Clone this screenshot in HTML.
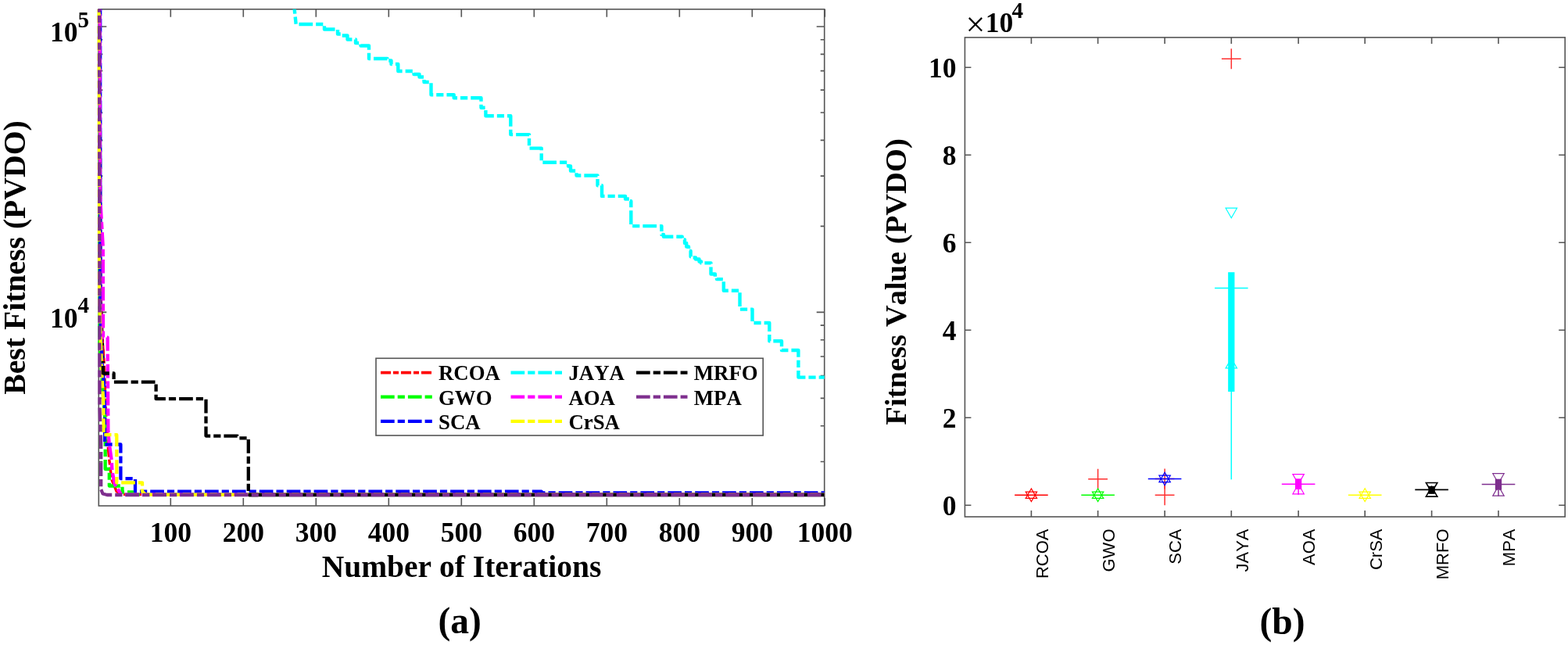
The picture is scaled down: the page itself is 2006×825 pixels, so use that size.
<!DOCTYPE html>
<html><head><meta charset="utf-8"><title>PVDO convergence and boxplot</title>
<style>html,body{margin:0;padding:0;background:#fff;}body{width:2006px;height:825px;overflow:hidden;}svg{display:block;}</style>
</head><body>
<svg width="2006" height="825" viewBox="0 0 2006 825">
<rect width="2006" height="825" fill="#fff"/>
<defs><clipPath id="cl"><rect x="123.3" y="11.8" width="931.40" height="635.2"/></clipPath></defs>
<path d="M218.3 647.0v-10M218.3 11.8v10M311.3 647.0v-10M311.3 11.8v10M404.3 647.0v-10M404.3 11.8v10M497.3 647.0v-10M497.3 11.8v10M590.3 647.0v-10M590.3 11.8v10M683.3 647.0v-10M683.3 11.8v10M776.3 647.0v-10M776.3 11.8v10M869.3 647.0v-10M869.3 11.8v10M962.3 647.0v-10M962.3 11.8v10M1055.3 647.0v-10M1055.3 11.8v10M126.3 399.4h10M1054.7 399.4h-10M126.3 34.0h10M1054.7 34.0h-10M126.3 590.5h5M1054.7 590.5h-5M126.3 544.8h5M1054.7 544.8h-5M126.3 509.4h5M1054.7 509.4h-5M126.3 480.5h5M1054.7 480.5h-5M126.3 456.0h5M1054.7 456.0h-5M126.3 434.8h5M1054.7 434.8h-5M126.3 416.1h5M1054.7 416.1h-5M126.3 289.4h5M1054.7 289.4h-5M126.3 225.1h5M1054.7 225.1h-5M126.3 179.4h5M1054.7 179.4h-5M126.3 144.0h5M1054.7 144.0h-5M126.3 115.1h5M1054.7 115.1h-5M126.3 90.6h5M1054.7 90.6h-5M126.3 69.4h5M1054.7 69.4h-5M126.3 50.7h5M1054.7 50.7h-5" stroke="#555" stroke-width="1.6" fill="none"/>
<rect x="126.3" y="11.8" width="928.40" height="635.2" fill="none" stroke="#555" stroke-width="1.6"/>
<g clip-path="url(#cl)" fill="none" stroke-linejoin="round">
<polyline points="127.5,0 128.5,380 131.8,462" stroke="#000" stroke-width="4.4" stroke-dasharray="17.7 4 9.2 4" stroke-dashoffset="7"/>
<polyline points="127,0 127,300 130,420 133.5,470 135,520 137.6,563.5 139.8,588.2 142.7,612.9 149.3,628.9 160,632.6 1056,632.6" stroke="#ff0000" stroke-width="3.5" stroke-dasharray="13 3 7 3" stroke-dashoffset="0"/>
<polyline points="127,0 127.5,440 129.5,470 131.5,500 134.7,540 134.7,600 139.8,600 139.8,621.5 156.5,621.5 156.5,629.5 170,629.5 171.5,632.6 1056,632.6" stroke="#00ff00" stroke-width="4.3" stroke-dasharray="17.7 4 9.2 4" stroke-dashoffset="5"/>
<polyline points="128.2,0 128.2,400 131,470 134,500 134,568.5 154.4,568.5 154.4,612.2 173,612.2 173,628.6 692.6,628.6 693.5,630.3 1056,630.3" stroke="#0000ff" stroke-width="4.3" stroke-dasharray="17.7 4 9.2 4" stroke-dashoffset="11"/>
<polyline points="375.5,0 377.5,20 378.7,31 415,31 415,37.5 432,37.5 432,43.5 436.5,43.5 436.5,45.5 444.5,45.5 444.5,50.5 455,50.5 455,55 461.5,55 461.5,58.5 472,58.5 472,75 495.5,75 495.5,77.5 500.5,77.5 500.5,82 509.3,82 509.3,91 529.5,91 529.5,95 536.5,95 536.5,98.5 542.5,98.5 542.5,105 551.5,105 551.5,121.2 580.7,121.2 580.7,125.3 615.5,125.3 615.5,137.8 621.4,137.8 621.4,148.3 653.3,148.3 653.3,172.1 677,172.1 677,189.6 692.7,189.6 692.7,207.7 727,207.7 727,212.5 730,212.5 730,218.5 737.5,218.5 737.5,224.5 764.5,224.5 764.5,237.3 770,237.3 770,250.9 800,250.9 800,254.5 805.5,254.5 805.5,257.3 807.3,257.3 807.3,289.1 846.4,289.1 846.4,300 849,300 849,302.7 872.7,302.7 872.7,306.4 876,306.4 876,311 878.2,311 878.2,315.5 881,315.5 881,321 883.6,321 883.6,328.2 886.5,328.2 886.5,329.5 890,329.5 890,331.5 894.5,331.5 894.5,334.5 897,334.5 897,336.4 909.5,336.4 909.5,350.5 914.9,350.5 914.9,355 917,355 917,357.1 925.8,357.1 925.8,371.8 946.5,371.8 946.5,395.6 962.5,395.6 962.5,413 984.3,413 984.3,436.2 1000,436.2 1000,448 1021.4,448 1021.4,482.6 1056,482.6" stroke="#00ffff" stroke-width="4.4" stroke-dasharray="17.7 4 9.2 4" stroke-dashoffset="0"/>
<polyline points="127.5,0 128,250 131.8,315.6 132,431.6 137.6,431.6 138.4,551.8 139.8,567.8 142.7,588.2 143.5,602.7 147.1,620.2 155.1,632.6 1056,632.6" stroke="#ff00ff" stroke-width="4.3" stroke-dasharray="17.7 4 9.2 4" stroke-dashoffset="17"/>
<polyline points="126.6,0 127,380 130,470 132.5,520 132.5,556.2 149.3,556.2 149.3,617.3 182,617.3 182,628.5 186,632.6 1056,632.6" stroke="#ffff00" stroke-width="4.3" stroke-dasharray="17.7 4 9.2 4" stroke-dashoffset="23"/>
<polyline points="131.8,462 131.8,477.5 145.6,477.5 145.6,488.7 199.6,488.7 199.6,510.2 263.5,510.2 263.5,557.6 303.7,557.6 305,560.3 317.8,560.3 317.8,628.8 319,633 330,633" stroke="#000000" stroke-width="4.3" stroke-dasharray="17.7 4 9.2 4" stroke-dashoffset="29"/>
<polyline points="318,633 1056,633" stroke="#000000" stroke-width="4.3" stroke-dasharray="none" stroke-dashoffset="0"/>
<polyline points="127,0 127.5,520 129.2,570 129.2,626 131.5,631.5 137,633 1056,633" stroke="#7e2f8e" stroke-width="4.3" stroke-dasharray="17.7 4 9.2 4" stroke-dashoffset="2"/>
</g>
<rect x="481" y="458.3" width="495.20" height="98.69" fill="#fff" stroke="#555" stroke-width="1.6"/>
<line x1="487" y1="476.6" x2="553" y2="476.6" stroke="#ff0000" stroke-width="3.6" stroke-dasharray="13 3 7 3"/>
<text x="561" y="486.2" style="font-family:'Liberation Serif','Times New Roman',serif;font-weight:bold;font-kerning:none;font-size:26.8px">RCOA</text>
<line x1="487" y1="507.6" x2="553" y2="507.6" stroke="#00ff00" stroke-width="4.4" stroke-dasharray="17.7 4 9.2 4"/>
<text x="561" y="517.8" style="font-family:'Liberation Serif','Times New Roman',serif;font-weight:bold;font-kerning:none;font-size:26.8px">GWO</text>
<line x1="487" y1="538.9" x2="553" y2="538.9" stroke="#0000ff" stroke-width="4.4" stroke-dasharray="17.7 4 9.2 4"/>
<text x="561" y="549.2" style="font-family:'Liberation Serif','Times New Roman',serif;font-weight:bold;font-kerning:none;font-size:26.8px">SCA</text>
<line x1="653.5" y1="476.6" x2="719" y2="476.6" stroke="#00ffff" stroke-width="4.4" stroke-dasharray="17.7 4 9.2 4"/>
<text x="727.4" y="486.2" style="font-family:'Liberation Serif','Times New Roman',serif;font-weight:bold;font-kerning:none;font-size:26.8px">JAYA</text>
<line x1="653.5" y1="507.6" x2="719" y2="507.6" stroke="#ff00ff" stroke-width="4.4" stroke-dasharray="17.7 4 9.2 4"/>
<text x="727.4" y="517.8" style="font-family:'Liberation Serif','Times New Roman',serif;font-weight:bold;font-kerning:none;font-size:26.8px">AOA</text>
<line x1="653.5" y1="538.9" x2="719" y2="538.9" stroke="#ffff00" stroke-width="4.4" stroke-dasharray="17.7 4 9.2 4"/>
<text x="727.4" y="549.2" style="font-family:'Liberation Serif','Times New Roman',serif;font-weight:bold;font-kerning:none;font-size:26.8px">CrSA</text>
<line x1="814" y1="476.6" x2="879.5" y2="476.6" stroke="#000000" stroke-width="4.4" stroke-dasharray="17.7 4 9.2 4"/>
<text x="887.8" y="486.2" style="font-family:'Liberation Serif','Times New Roman',serif;font-weight:bold;font-kerning:none;font-size:26.8px">MRFO</text>
<line x1="814" y1="507.6" x2="879.5" y2="507.6" stroke="#7e2f8e" stroke-width="4.4" stroke-dasharray="17.7 4 9.2 4"/>
<text x="887.8" y="517.8" style="font-family:'Liberation Serif','Times New Roman',serif;font-weight:bold;font-kerning:none;font-size:26.8px">MPA</text>
<text x="218.3" y="692.9" text-anchor="middle" style="font-family:'Liberation Serif','Times New Roman',serif;font-weight:bold;font-kerning:none;font-size:35.5px">100</text>
<text x="311.3" y="692.9" text-anchor="middle" style="font-family:'Liberation Serif','Times New Roman',serif;font-weight:bold;font-kerning:none;font-size:35.5px">200</text>
<text x="404.3" y="692.9" text-anchor="middle" style="font-family:'Liberation Serif','Times New Roman',serif;font-weight:bold;font-kerning:none;font-size:35.5px">300</text>
<text x="497.3" y="692.9" text-anchor="middle" style="font-family:'Liberation Serif','Times New Roman',serif;font-weight:bold;font-kerning:none;font-size:35.5px">400</text>
<text x="590.3" y="692.9" text-anchor="middle" style="font-family:'Liberation Serif','Times New Roman',serif;font-weight:bold;font-kerning:none;font-size:35.5px">500</text>
<text x="683.3" y="692.9" text-anchor="middle" style="font-family:'Liberation Serif','Times New Roman',serif;font-weight:bold;font-kerning:none;font-size:35.5px">600</text>
<text x="776.3" y="692.9" text-anchor="middle" style="font-family:'Liberation Serif','Times New Roman',serif;font-weight:bold;font-kerning:none;font-size:35.5px">700</text>
<text x="869.3" y="692.9" text-anchor="middle" style="font-family:'Liberation Serif','Times New Roman',serif;font-weight:bold;font-kerning:none;font-size:35.5px">800</text>
<text x="962.3" y="692.9" text-anchor="middle" style="font-family:'Liberation Serif','Times New Roman',serif;font-weight:bold;font-kerning:none;font-size:35.5px">900</text>
<text x="1055.3" y="692.9" text-anchor="middle" style="font-family:'Liberation Serif','Times New Roman',serif;font-weight:bold;font-kerning:none;font-size:35.5px">1000</text>
<text x="64" y="53.3" style="font-family:'Liberation Serif','Times New Roman',serif;font-weight:bold;font-kerning:none;font-size:35.5px">10</text><text x="99.5" y="35" style="font-family:'Liberation Serif','Times New Roman',serif;font-weight:bold;font-kerning:none;font-size:29px">5</text>
<text x="64" y="418.5" style="font-family:'Liberation Serif','Times New Roman',serif;font-weight:bold;font-kerning:none;font-size:35.5px">10</text><text x="99.5" y="400" style="font-family:'Liberation Serif','Times New Roman',serif;font-weight:bold;font-kerning:none;font-size:29px">4</text>
<text x="590.5" y="738" text-anchor="middle" style="font-family:'Liberation Serif','Times New Roman',serif;font-weight:bold;font-kerning:none;font-size:39.5px">Number of Iterations</text>
<text transform="translate(32,329.5) rotate(-90)" text-anchor="middle" style="font-family:'Liberation Serif','Times New Roman',serif;font-weight:bold;font-kerning:none;font-size:39.7px">Best Fitness (PVDO)</text>
<text x="588.2" y="810" text-anchor="middle" style="font-family:'Liberation Serif','Times New Roman',serif;font-weight:bold;font-kerning:none;font-size:47.5px">(a)</text>
<path d="M1319.4 661.0v-8M1319.4 47.9v8M1404.6 661.0v-8M1404.6 47.9v8M1490.1 661.0v-8M1490.1 47.9v8M1575.3 661.0v-8M1575.3 47.9v8M1661.1 661.0v-8M1661.1 47.9v8M1746.2 661.0v-8M1746.2 47.9v8M1831.6 661.0v-8M1831.6 47.9v8M1917.0 661.0v-8M1917.0 47.9v8M1234.4 646.2h8M2002.2 646.2h-8M1234.4 534.2h8M2002.2 534.2h-8M1234.4 422.2h8M2002.2 422.2h-8M1234.4 310.2h8M2002.2 310.2h-8M1234.4 198.2h8M2002.2 198.2h-8M1234.4 86.2h8M2002.2 86.2h-8" stroke="#555" stroke-width="1.6" fill="none"/>
<rect x="1234.4" y="47.9" width="767.8" height="613.1" fill="none" stroke="#555" stroke-width="1.6"/>
<text x="1223.5" y="659.2" text-anchor="end" style="font-family:'Liberation Serif','Times New Roman',serif;font-weight:bold;font-kerning:none;font-size:35.5px">0</text>
<text x="1223.5" y="547.2" text-anchor="end" style="font-family:'Liberation Serif','Times New Roman',serif;font-weight:bold;font-kerning:none;font-size:35.5px">2</text>
<text x="1223.5" y="435.2" text-anchor="end" style="font-family:'Liberation Serif','Times New Roman',serif;font-weight:bold;font-kerning:none;font-size:35.5px">4</text>
<text x="1223.5" y="323.2" text-anchor="end" style="font-family:'Liberation Serif','Times New Roman',serif;font-weight:bold;font-kerning:none;font-size:35.5px">6</text>
<text x="1223.5" y="211.2" text-anchor="end" style="font-family:'Liberation Serif','Times New Roman',serif;font-weight:bold;font-kerning:none;font-size:35.5px">8</text>
<text x="1223.5" y="99.2" text-anchor="end" style="font-family:'Liberation Serif','Times New Roman',serif;font-weight:bold;font-kerning:none;font-size:35.5px">10</text>
<text x="1235.6" y="45.6" style="font-family:'Liberation Serif','Times New Roman',serif;font-weight:bold;font-kerning:none;font-size:44px;font-weight:normal">×</text><text x="1260.7" y="40.5" style="font-family:'Liberation Serif','Times New Roman',serif;font-weight:bold;font-kerning:none;font-size:35.5px">10</text><text x="1294.5" y="23.3" style="font-family:'Liberation Serif','Times New Roman',serif;font-weight:bold;font-kerning:none;font-size:29px">4</text>
<text transform="translate(1340.7,676.5) rotate(-90)" text-anchor="end" style="font-family:'Liberation Sans',Arial,sans-serif;font-kerning:none;font-size:22px">RCOA</text>
<text transform="translate(1425.89,676.5) rotate(-90)" text-anchor="end" style="font-family:'Liberation Sans',Arial,sans-serif;font-kerning:none;font-size:22px">GWO</text>
<text transform="translate(1511.39,676.5) rotate(-90)" text-anchor="end" style="font-family:'Liberation Sans',Arial,sans-serif;font-kerning:none;font-size:22px">SCA</text>
<text transform="translate(1596.6,676.5) rotate(-90)" text-anchor="end" style="font-family:'Liberation Sans',Arial,sans-serif;font-kerning:none;font-size:22px">JAYA</text>
<text transform="translate(1682.39,676.5) rotate(-90)" text-anchor="end" style="font-family:'Liberation Sans',Arial,sans-serif;font-kerning:none;font-size:22px">AOA</text>
<text transform="translate(1767.5,676.5) rotate(-90)" text-anchor="end" style="font-family:'Liberation Sans',Arial,sans-serif;font-kerning:none;font-size:22px">CrSA</text>
<text transform="translate(1852.89,676.5) rotate(-90)" text-anchor="end" style="font-family:'Liberation Sans',Arial,sans-serif;font-kerning:none;font-size:22px">MRFO</text>
<text transform="translate(1938.3,676.5) rotate(-90)" text-anchor="end" style="font-family:'Liberation Sans',Arial,sans-serif;font-kerning:none;font-size:22px">MPA</text>
<text transform="translate(1158.5,360.4) rotate(-90)" text-anchor="middle" style="font-family:'Liberation Serif','Times New Roman',serif;font-weight:bold;font-kerning:none;font-size:38.6px">Fitness Value (PVDO)</text>
<text x="1640.5" y="810.5" text-anchor="middle" style="font-family:'Liberation Serif','Times New Roman',serif;font-weight:bold;font-kerning:none;font-size:47.5px">(b)</text>
<line x1="1298.10" y1="633.3" x2="1340.7" y2="633.3" stroke="#ff0000" stroke-width="1.5"/>
<polygon points="1312.2,629.1 1326.60,629.1 1319.4,641.6" fill="none" stroke="#ff0000" stroke-width="1.2"/>
<polygon points="1312.2,637.4 1326.60,637.4 1319.4,624.9" fill="none" stroke="#ff0000" stroke-width="1.2"/>
<path d="M1392.19 612.7h24.8M1404.6 599.7v26" stroke="#ff3030" stroke-width="1.5"/>
<line x1="1383.3" y1="633.3" x2="1425.89" y2="633.3" stroke="#00ff00" stroke-width="1.5"/>
<polygon points="1397.39,629.1 1411.8,629.1 1404.6,641.6" fill="none" stroke="#00ff00" stroke-width="1.2"/>
<polygon points="1397.39,637.4 1411.8,637.4 1404.6,624.9" fill="none" stroke="#00ff00" stroke-width="1.2"/>
<path d="M1477.69 612.4h24.8M1490.1 599.4v26" stroke="#ff3030" stroke-width="1.5"/>
<path d="M1477.69 633.3h24.8M1490.1 620.3v26" stroke="#ff3030" stroke-width="1.5"/>
<line x1="1468.8" y1="612.4" x2="1511.39" y2="612.4" stroke="#0000ff" stroke-width="1.5"/>
<polygon points="1482.89,608.2 1497.3,608.2 1490.1,620.7" fill="none" stroke="#0000ff" stroke-width="1.2"/>
<polygon points="1482.89,616.59 1497.3,616.59 1490.1,604.09" fill="none" stroke="#0000ff" stroke-width="1.2"/>
<path d="M1562.89 75.3h24.8M1575.3 62.3v26" stroke="#ff3030" stroke-width="1.5"/>
<rect x="1571.14" y="348.2" width="8.3" height="152.8" fill="#00ffff"/>
<line x1="1575.3" y1="501" x2="1575.3" y2="613.3" stroke="#00ffff" stroke-width="1.5"/>
<line x1="1554.0" y1="368.5" x2="1596.6" y2="368.5" stroke="#00ffff" stroke-width="1.5"/>
<polygon points="1568.1,266.2 1582.5,266.2 1575.3,278.7" fill="none" stroke="#00ffff" stroke-width="1.2"/>
<polygon points="1568.1,470.90 1582.5,470.90 1575.3,458.40" fill="none" stroke="#00ffff" stroke-width="1.2"/>
<rect x="1656.94" y="612.3" width="8.3" height="13.60" fill="#ff00ff"/>
<line x1="1661.1" y1="625.9" x2="1661.1" y2="632.7" stroke="#ff00ff" stroke-width="1.5"/>
<line x1="1639.8" y1="619.3" x2="1682.39" y2="619.3" stroke="#ff00ff" stroke-width="1.5"/>
<polygon points="1653.89,606.6 1668.3,606.6 1661.1,619.1" fill="none" stroke="#ff00ff" stroke-width="1.2"/>
<polygon points="1653.89,631.8 1668.3,631.8 1661.1,619.3" fill="none" stroke="#ff00ff" stroke-width="1.2"/>
<line x1="1724.9" y1="633.2" x2="1767.5" y2="633.2" stroke="#ffff00" stroke-width="1.5"/>
<polygon points="1739.0,629.1 1753.4,629.1 1746.2,641.6" fill="none" stroke="#ffff00" stroke-width="1.2"/>
<polygon points="1739.0,637.3 1753.4,637.3 1746.2,624.8" fill="none" stroke="#ffff00" stroke-width="1.2"/>
<rect x="1827.44" y="621.8" width="8.3" height="10.0" fill="#000000"/>
<line x1="1810.3" y1="626.4" x2="1852.89" y2="626.4" stroke="#000000" stroke-width="1.8"/>
<polygon points="1824.39,617.5 1838.8,617.5 1831.6,630.0" fill="none" stroke="#000000" stroke-width="1.6"/>
<polygon points="1824.39,635.09 1838.8,635.09 1831.6,622.59" fill="none" stroke="#000000" stroke-width="1.6"/>
<rect x="1912.85" y="612.7" width="8.3" height="14.09" fill="#7e2f8e"/>
<line x1="1917.0" y1="626.8" x2="1917.0" y2="634.4" stroke="#7e2f8e" stroke-width="1.5"/>
<line x1="1895.7" y1="619.5" x2="1938.3" y2="619.5" stroke="#7e2f8e" stroke-width="1.5"/>
<polygon points="1909.8,605.7 1924.2,605.7 1917.0,618.2" fill="none" stroke="#7e2f8e" stroke-width="1.2"/>
<polygon points="1909.8,634.19 1924.2,634.19 1917.0,621.69" fill="none" stroke="#7e2f8e" stroke-width="1.2"/>
</svg>
</body></html>
